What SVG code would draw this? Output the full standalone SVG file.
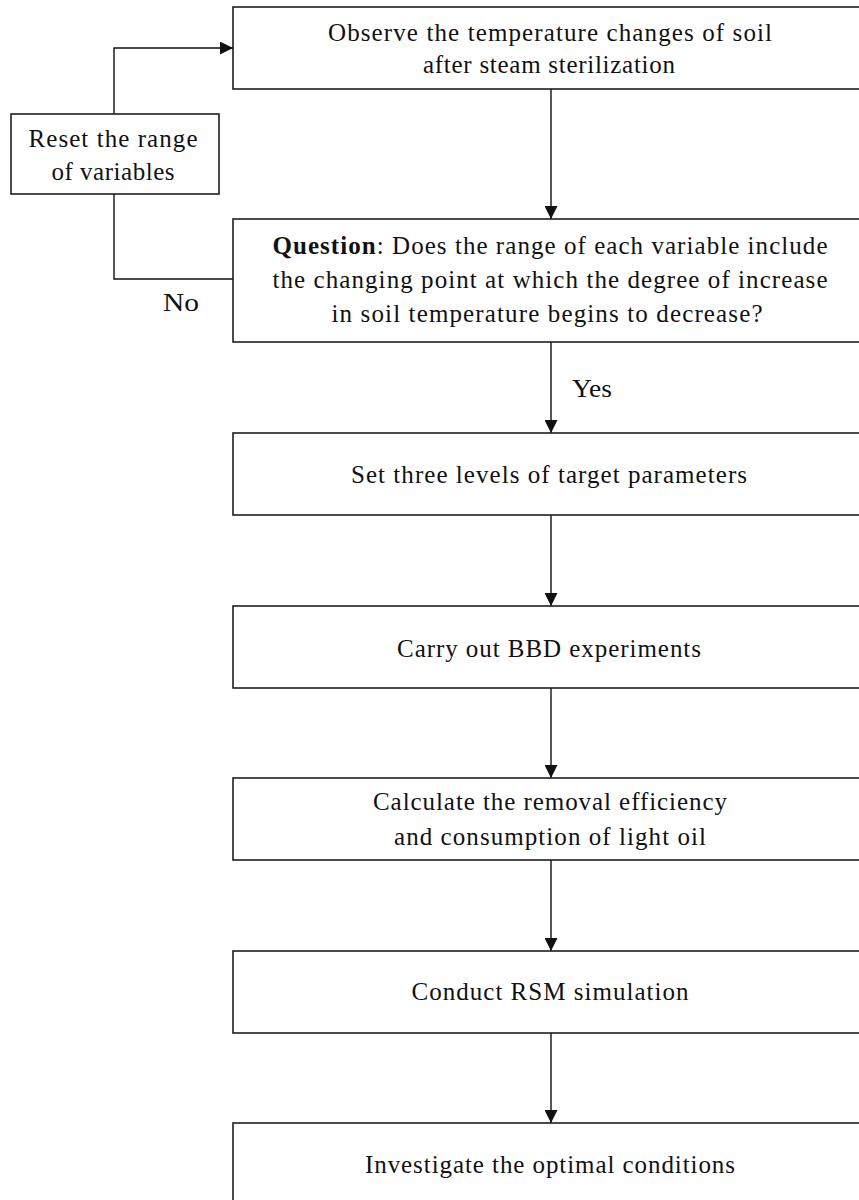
<svg xmlns="http://www.w3.org/2000/svg" width="859" height="1200" viewBox="0 0 859 1200">
  <style>
    .box { fill: #ffffff; stroke: #1e1e1e; stroke-width: 1.6; }
    .wire { fill: none; stroke: #111111; stroke-width: 1.4; }
    .label { font-family: "Liberation Serif", "Times New Roman", serif; font-size: 25px; fill: #111111; text-anchor: middle; }
    .side { font-family: "Liberation Serif", "Times New Roman", serif; font-size: 25px; fill: #111111; }
    .strong { font-weight: bold; }
  </style>
  <defs>
    <marker id="head" viewBox="0 0 13 13" refX="13" refY="6.5" markerWidth="13" markerHeight="13" markerUnits="userSpaceOnUse" orient="auto">
      <path d="M0,0 L13,6.5 L0,13 Z" fill="#111111"/>
    </marker>
  </defs>
  <rect width="859" height="1200" fill="#ffffff"/>

  <!-- connectors -->
  <g id="connectors">
    <path class="wire" d="M114,114 V48 H233" marker-end="url(#head)"/>
    <path class="wire" d="M233,279 H114 V194"/>
    <path class="wire" d="M551,89 V219" marker-end="url(#head)"/>
    <path class="wire" d="M551,342 V433" marker-end="url(#head)"/>
    <path class="wire" d="M551,515 V606" marker-end="url(#head)"/>
    <path class="wire" d="M551,688 V778" marker-end="url(#head)"/>
    <path class="wire" d="M551,860 V951" marker-end="url(#head)"/>
    <path class="wire" d="M551,1033 V1123" marker-end="url(#head)"/>
    <text class="side" x="163" y="311" textLength="36" lengthAdjust="spacingAndGlyphs">No</text>
    <text class="side" x="572" y="397" textLength="40" lengthAdjust="spacingAndGlyphs">Yes</text>
  </g>

  <!-- nodes -->
  <g id="observe">
    <rect class="box" x="233" y="7" width="636" height="82"/>
    <text class="label" x="550" y="41" textLength="444" lengthAdjust="spacing">Observe the temperature changes of soil</text>
    <text class="label" x="549" y="73" textLength="252" lengthAdjust="spacing">after steam sterilization</text>
  </g>

  <g id="reset">
    <rect class="box" x="11" y="114" width="208" height="80"/>
    <text class="label" x="113" y="147" textLength="169" lengthAdjust="spacing">Reset the range</text>
    <text class="label" x="113" y="180" textLength="123" lengthAdjust="spacing">of variables</text>
  </g>

  <g id="question">
    <rect class="box" x="233" y="219" width="636" height="123"/>
    <text class="label" x="550" y="254" textLength="555" lengthAdjust="spacing"><tspan class="strong">Question</tspan>: Does the range of each variable include</text>
    <text class="label" x="550" y="288" textLength="555" lengthAdjust="spacing">the changing point at which the degree of increase</text>
    <text class="label" x="547" y="322" textLength="431" lengthAdjust="spacing">in soil temperature begins to decrease?</text>
  </g>

  <g id="levels">
    <rect class="box" x="233" y="433" width="636" height="82"/>
    <text class="label" x="549" y="483" textLength="396" lengthAdjust="spacing">Set three levels of target parameters</text>
  </g>

  <g id="bbd">
    <rect class="box" x="233" y="606" width="636" height="82"/>
    <text class="label" x="549" y="657" textLength="304" lengthAdjust="spacing">Carry out BBD experiments</text>
  </g>

  <g id="calculate">
    <rect class="box" x="233" y="778" width="636" height="82"/>
    <text class="label" x="550" y="810" textLength="354" lengthAdjust="spacing">Calculate the removal efficiency</text>
    <text class="label" x="550" y="845" textLength="312" lengthAdjust="spacing">and consumption of light oil</text>
  </g>

  <g id="rsm">
    <rect class="box" x="233" y="951" width="636" height="82"/>
    <text class="label" x="550" y="1000" textLength="277" lengthAdjust="spacing">Conduct RSM simulation</text>
  </g>

  <g id="optimal">
    <rect class="box" x="233" y="1123" width="636" height="82"/>
    <text class="label" x="550" y="1173" textLength="370" lengthAdjust="spacing">Investigate the optimal conditions</text>
  </g>
</svg>
